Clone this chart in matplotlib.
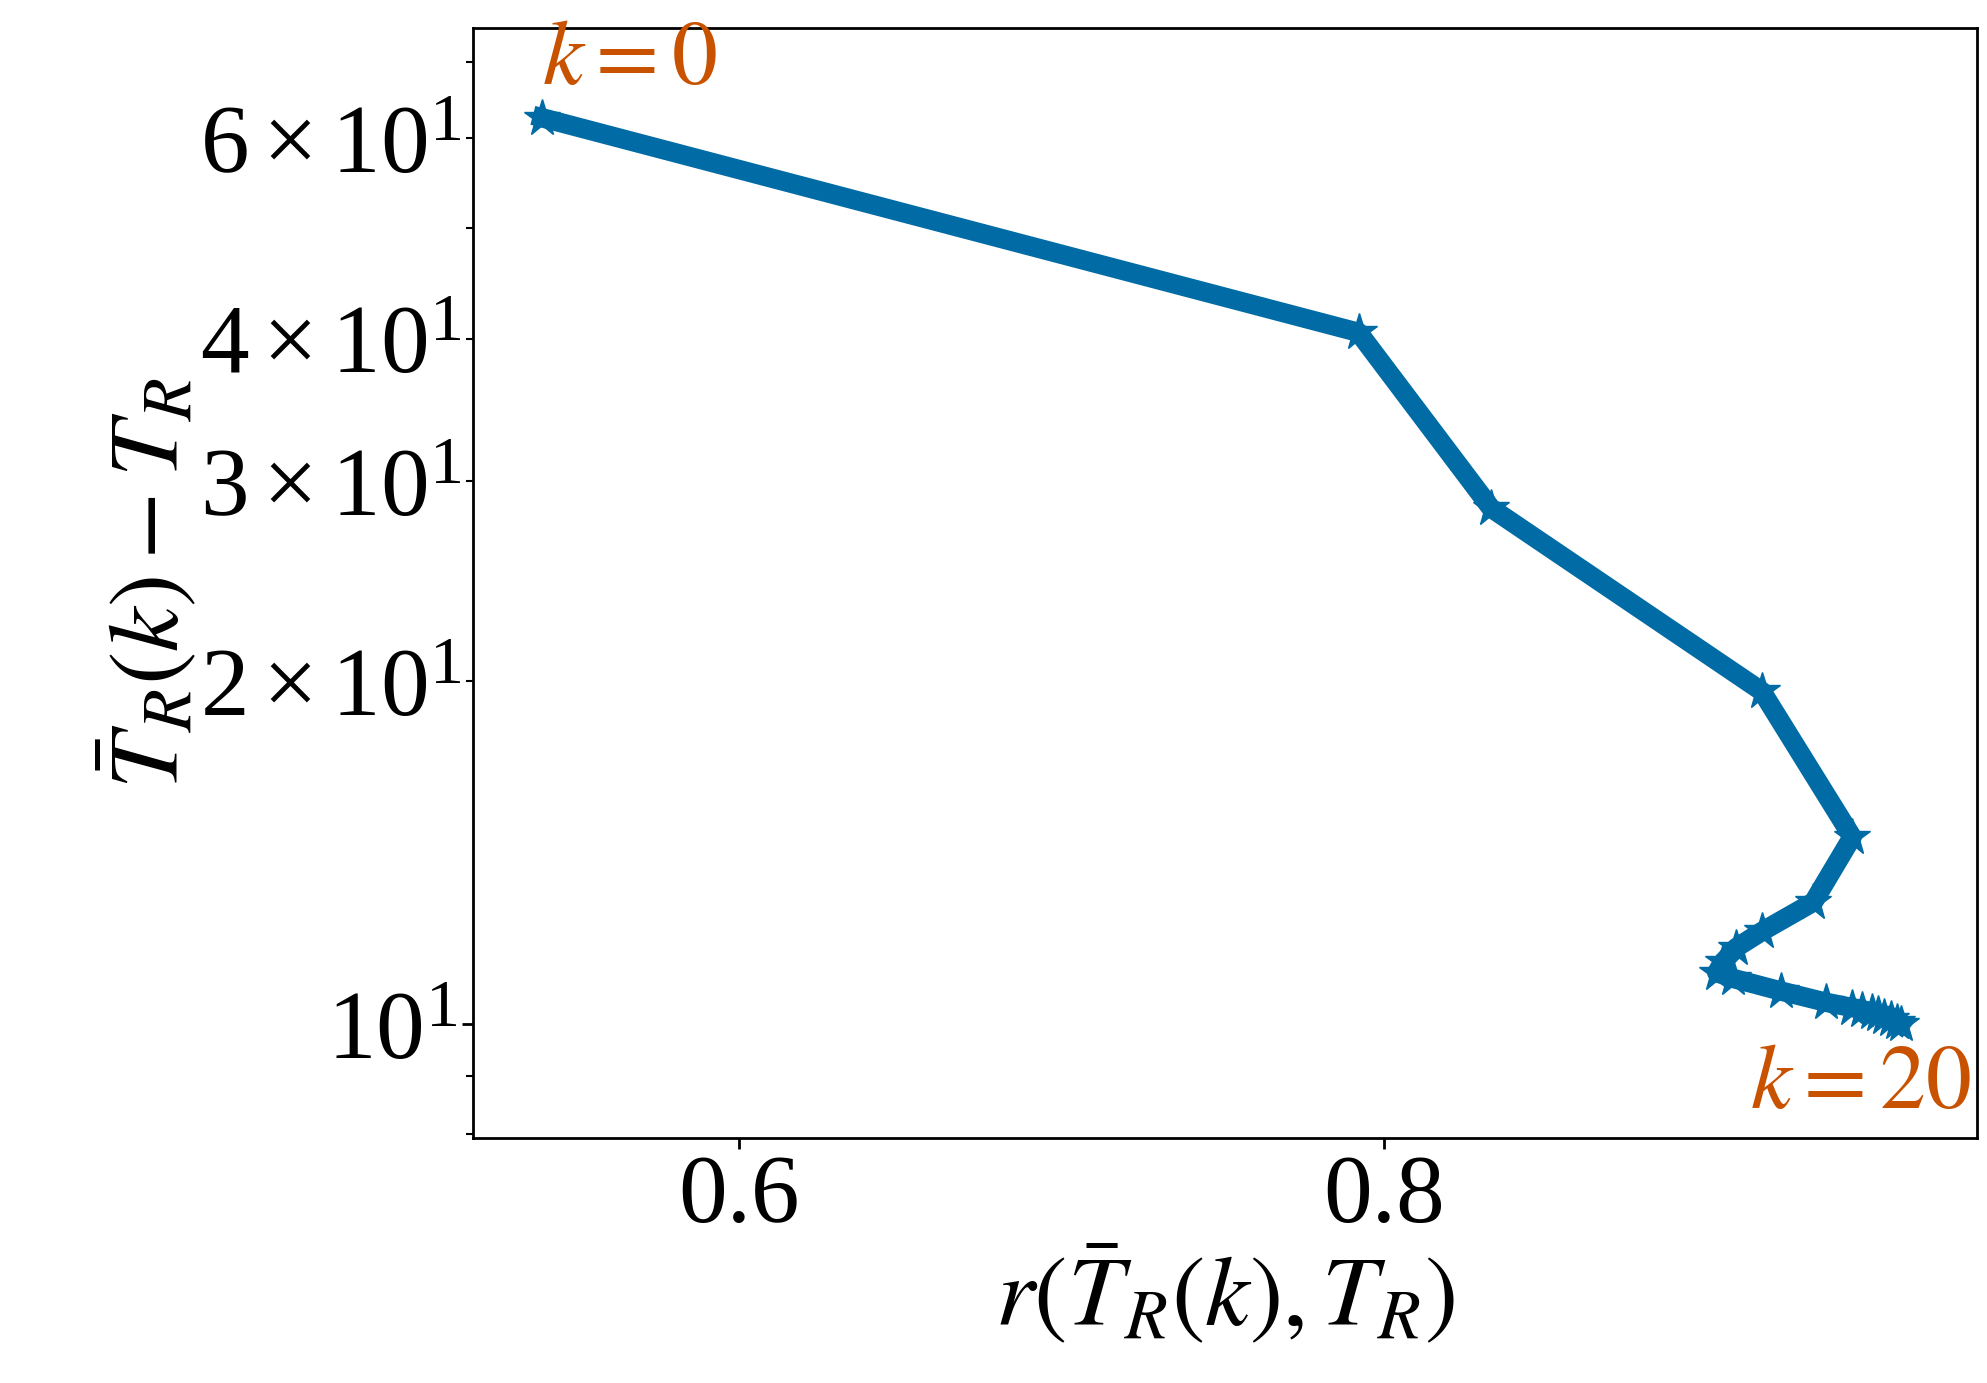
import matplotlib
matplotlib.use("Agg")
import matplotlib.pyplot as plt

plt.rcParams['font.family'] = 'Liberation Serif'
plt.rcParams['mathtext.fontset'] = 'stix'

r_vals = [0.539, 0.792, 0.833, 0.917, 0.945, 0.933, 0.917, 0.909, 0.905, 0.903,
          0.908, 0.923, 0.937, 0.945, 0.948, 0.951, 0.953, 0.955, 0.957, 0.959, 0.960]
err_vals = [62.5, 40.5, 28.4, 19.6, 14.6, 12.8, 12.06, 11.67, 11.34, 11.1,
            10.97, 10.69, 10.45, 10.34, 10.3, 10.25, 10.2, 10.15, 10.1, 10.05, 10.0]

fig = plt.figure(figsize=(19.87, 13.83), dpi=100)
ax = fig.add_axes([0.238, 0.177, 0.757, 0.803])
ax.plot(r_vals, err_vals, color='#006ba4', lw=14, marker='*', ms=28)
ax.set_yscale('log')
ax.set_xlim(0.5175, 0.9837)
ax.set_ylim(7.94, 75)
ax.set_xticks([0.6, 0.8])
ax.tick_params(which='both', labelsize=70)
ax.tick_params(which='major', width=2, length=8)
ax.tick_params(which='minor', width=1.5, length=5)
for s in ax.spines.values():
    s.set_linewidth(2)
ax.set_xlabel(r'$r(\bar{T}_R(k), T_R)$', fontsize=72, labelpad=0)
ax.set_ylabel(r'$\bar{T}_R(k) - T_R$', fontsize=72, labelpad=0)
ax.text(r_vals[0], err_vals[0] * 1.07, r'$k=0$', color='#c85200', fontsize=66)
ax.text(0.982, err_vals[-1] * 0.96, r'$k=20$', color='#c85200', fontsize=66,
        ha='right', va='top')
fig.savefig('out.png', dpi=100)
